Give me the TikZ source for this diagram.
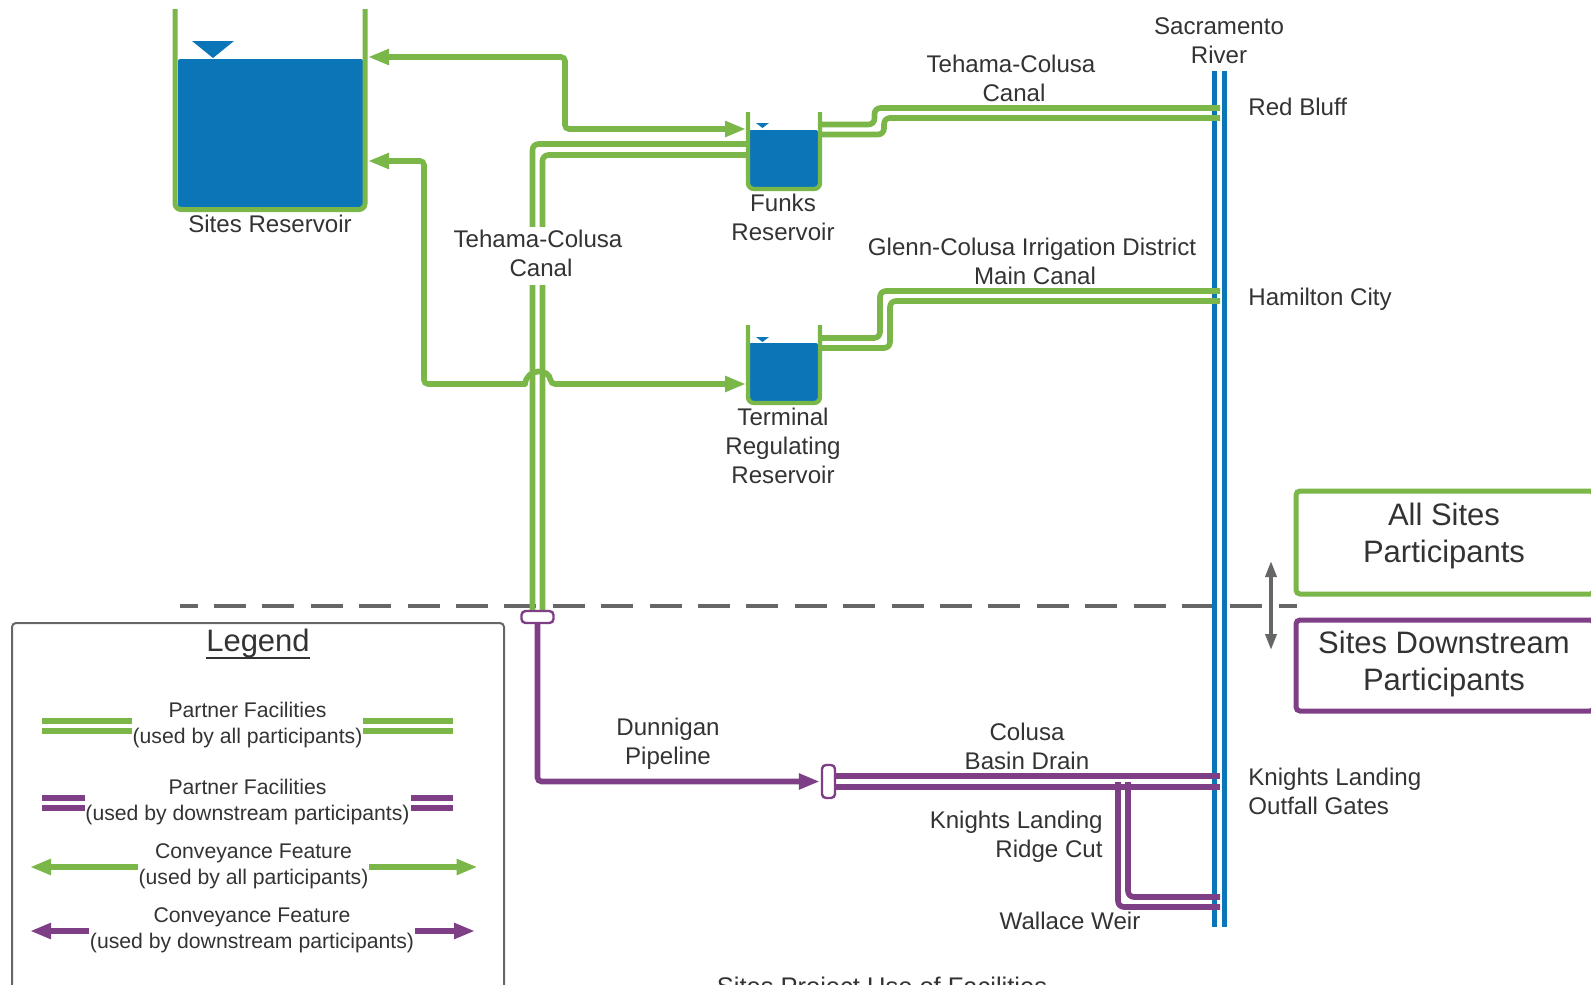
\documentclass[tikz,border=0pt]{standalone}
\usepackage{fontspec}
\setmainfont{Liberation Sans}
\usetikzlibrary{arrows.meta}
\definecolor{partgreen}{HTML}{7AB648}
\definecolor{partpurple}{HTML}{7F3F86}
\definecolor{riverblue}{HTML}{0B76B7}
\definecolor{txtgray}{HTML}{333333}
\definecolor{linegray}{HTML}{666666}
\tikzset{
  lbl/.style={font=\fontsize{12.05}{14.5}\selectfont,text=txtgray,align=center,inner sep=0pt},
  leglbl/.style={font=\fontsize{10.6}{12.8}\selectfont,text=txtgray,align=center,inner sep=0pt},
  biglbl/.style={font=\fontsize{15.5}{18.5}\selectfont,text=txtgray,align=center,inner sep=0pt},
  canal/.style={line width=2.8pt,rounded corners=3pt,partgreen},
  canalp/.style={line width=2.8pt,rounded corners=3pt,partpurple},
  feed/.style={line width=2.8pt,rounded corners=2pt,partgreen,-{Triangle[length=10.5pt,width=7.5pt]}},
  feedp/.style={line width=2.8pt,rounded corners=2pt,partpurple,-{Triangle[length=10.5pt,width=7.5pt]}},
  wall/.style={line width=2.5pt,rounded corners=3pt,partgreen},
  wallsm/.style={line width=2.2pt,rounded corners=3pt,partgreen},
  water/.style={fill=riverblue,rounded corners=1pt,inner sep=0pt},
  river/.style={line width=2.5pt,riverblue},
  slider/.style={draw=partpurple,fill=white,line width=1.2pt,rounded corners=2pt,inner sep=0pt},
  groupbox/.style={line width=2.5pt,rounded corners=2pt,fill=white,inner sep=0pt,minimum width=149pt}
}
\begin{document}
\begin{tikzpicture}[x=0.5pt,y=-0.5pt]
  \useasboundingbox (0,0) rectangle (1591,985);
  \draw[line width=2pt,linegray,dash pattern=on 16pt off 8.2pt,dash phase=7.2pt] (180,606) -- (1297,606);
  \draw[river] (1214,71) -- (1214,927);
  \draw[river] (1224,71) -- (1224,927);
  \coordinate (rbluffa) at (1220,108);
  \coordinate (rbluffb) at (1220,118);
  \coordinate (hama) at (1220,291);
  \coordinate (hamb) at (1220,301);
  \coordinate (klanda) at (1220,776);
  \coordinate (klandb) at (1220,787);
  \coordinate (wweira) at (1220,897);
  \coordinate (wweirb) at (1220,907);
  \node[water,minimum width=92.5pt,minimum height=74pt] (sitesw) at (270.5,133) {};
  \fill[riverblue] (192,41) -- (234,41) -- (213,58) -- cycle;
  \draw[wall] (175,9) -- (175,209.5) -- (365,209.5) -- (365,9);
  \node[water,minimum width=34.5pt,minimum height=29pt] (funksw) at (783.5,159) {};
  \fill[riverblue] (756,123) -- (769,123) -- (762.5,128) -- cycle;
  \draw[wallsm] (748,112) -- (748,189) -- (820,189) -- (820,112);
  \node[water,minimum width=34.5pt,minimum height=29.5pt] (termw) at (783.5,372.5) {};
  \fill[riverblue] (756,337) -- (769,337) -- (762.5,342) -- cycle;
  \draw[wallsm] (748,325) -- (748,403) -- (820,403) -- (820,325);
  \coordinate (fouta) at (820,124.5);
  \coordinate (foutb) at (820,134.5);
  \coordinate (touta) at (820,338);
  \coordinate (toutb) at (820,348);
  \coordinate (fina) at (747,144);
  \coordinate (finb) at (747,155);
  \coordinate (tcola) at (532.5,612);
  \coordinate (tcolb) at (542.5,612);
  \coordinate (sitesa) at (368,57);
  \coordinate (sitesb) at (368,161);
  \coordinate (ftip) at (746,129);
  \coordinate (ttip) at (746,384);
  \coordinate (jumpa) at (525,384);
  \coordinate (jumpb) at (551,384);
  \draw[canal] (fouta) -- ++(54.5,0) |- (rbluffa);
  \draw[canal] (foutb) -- ++(64,0) |- (rbluffb);
  \draw[canal] (touta) -- ++(60,0) |- (hama);
  \draw[canal] (toutb) -- ++(70,0) |- (hamb);
  \draw[canal] (tcola) |- (fina);
  \draw[canal] (tcolb) |- (finb);
  \draw[feed,{Triangle[length=10.5pt,width=7.5pt]}-{Triangle[length=10.5pt,width=7.5pt]}] (sitesa) -| (565,129) -- (ftip);
  \draw[feed,line cap=round] (jumpa) -| (424,161) -- (sitesb);
  \draw[feed,line cap=round] (jumpa) .. controls (527,368) and (549,368) .. (jumpb) -- (ttip);
  \node[fill=white,minimum width=26pt,minimum height=29pt,inner sep=0pt] (tcgap) at (538,256) {};
  \node[lbl] (tcnode) at (538,253) {Tehama-Colusa\\\hspace*{3pt}Canal};
  \node[slider,minimum width=16pt,minimum height=6pt] (slidera) at (537.5,617) {};
  \node[slider,minimum width=6.5pt,minimum height=16.5pt] (sliderb) at (828.5,781.5) {};
  \draw[feedp,shorten >=0.5pt] (slidera.south) |- (sliderb.west);
  \draw[canalp] (sliderb.east |- klanda) -- (klanda);
  \draw[canalp] (sliderb.east |- klandb) -- (klandb);
  \draw[canalp] (1128,782) |- (wweira);
  \draw[canalp] (1118,782) |- (wweirb);
  \node[lbl] (sitesl) at (270,224) {Sites Reservoir};
  \node[lbl] (funksl) at (783,217) {Funks\\Reservoir};
  \node[lbl] (terml) at (783,446) {Terminal\\Regulating\\Reservoir};
  \node[lbl] (sacl) at (1219,41) {Sacramento\\River};
  \node[lbl] (tcupl) at (1011,78) {Tehama-Colusa\\\hspace*{3pt}Canal};
  \node[lbl] (gcidl) at (1032,261) {Glenn-Colusa Irrigation District\\\hspace*{3pt}Main Canal};
  \node[lbl,anchor=west] (rbl) at (1248,106.5) {Red Bluff};
  \node[lbl,anchor=west] (haml) at (1248,299) {Hamilton City};
  \node[lbl,anchor=west,align=left] (klgl) at (1248,791) {Knights Landing\\Outfall Gates};
  \node[lbl] (dunl) at (668,744) {Dunnigan\\Pipeline};
  \node[lbl] (cbdl) at (1027,746) {Colusa\\Basin Drain};
  \node[lbl,anchor=east,align=right] (klrl) at (1103,837) {Knights Landing\\Ridge Cut};
  \node[lbl] (wwl) at (1070,921) {Wallace Weir};
  \node[lbl,anchor=base,font=\fontsize{12.75}{14.5}\selectfont] (titlel) at (882,995) {Sites Project Use of Facilities};
  \node[groupbox,draw=partgreen,minimum height=51.5pt] (allbox) at (1445,542.5) {};
  \node[groupbox,draw=partpurple,minimum height=45.5pt] (dsbox) at (1445,665.5) {};
  \node[biglbl] (alll) at (1444,535.5) {All Sites\\Participants};
  \node[biglbl] (dsl) at (1444,664) {Sites Downstream\\Participants};
  \coordinate (uptip) at (1271,561);
  \coordinate (dntip) at (1271,650);
  \draw[line width=1.8pt,linegray,{Triangle[length=8pt,width=5.5pt]}-{Triangle[length=8pt,width=5.5pt]}] (uptip) -- (dntip);
  \node[draw=linegray,line width=1pt,rounded corners=2pt,minimum width=246pt,minimum height=190pt,inner sep=0pt] (legend) at (258,813) {};
  \node[biglbl] (legl) at (258,643) {Legend};
  \draw[line width=1pt,txtgray] (legl.south west) -- (legl.south east);
  \node[leglbl] (lega) at (247.5,725) {Partner Facilities\\(used by all participants)};
  \node[leglbl] (legb) at (247.5,802) {Partner Facilities\\(used by downstream participants)};
  \node[leglbl] (legc) at (253.5,866.5) {Conveyance Feature\\(used by all participants)};
  \node[leglbl] (legd) at (252,930) {Conveyance Feature\\(used by downstream participants)};
  \draw[canal,rounded corners=0pt] (42,721) -- (132,721);
  \draw[canal,rounded corners=0pt] (42,731) -- (132,731);
  \draw[canal,rounded corners=0pt] (363,721) -- (452.5,721);
  \draw[canal,rounded corners=0pt] (363,731) -- (452.5,731);
  \draw[canalp,rounded corners=0pt] (42,798) -- (85,798);
  \draw[canalp,rounded corners=0pt] (42,808) -- (85,808);
  \draw[canalp,rounded corners=0pt] (411,798) -- (452.5,798);
  \draw[canalp,rounded corners=0pt] (411,808) -- (452.5,808);
  \draw[feed] (138,867) -- (30,867);
  \draw[feed] (369,867) -- (477.5,867);
  \draw[feedp] (89,931) -- (30,931);
  \draw[feedp] (415,931) -- (475,931);
\end{tikzpicture}
\end{document}
